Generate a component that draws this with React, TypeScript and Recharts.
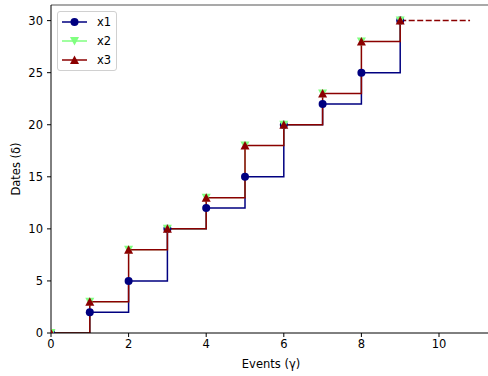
import React from "react";
import {
  LineChart,
  Line,
  XAxis,
  YAxis,
  Label,
  ReferenceLine,
} from "recharts";

const events = [0, 1, 2, 3, 4, 5, 6, 7, 8, 9];
const x1 = [0, 2, 5, 10, 12, 15, 20, 22, 25, 30];
const x2 = [0, 3, 8, 10, 13, 18, 20, 23, 28, 30];
const x3 = [0, 3, 8, 10, 13, 18, 20, 23, 28, 30];
const tailEvents = [9, 10.8];
const tailValues = [30, 30];
const xTicks = [0, 2, 4, 6, 8, 10];
const yTicks = [0, 5, 10, 15, 20, 25, 30];

const toRows = (xs: number[], ys: number[]) => xs.map((x, i) => ({ x, y: ys[i] }));

const NAVY = "#000080";
const GREEN = "#80ff80";
const RED = "#8b0000";
const FONT = "DejaVu Sans, sans-serif";
const FS = 11.5;

const Circle = ({ cx, cy, color }: any) => <circle cx={cx} cy={cy} r={4} fill={color} />;
const TriUp = ({ cx, cy, color }: any) => (
  <polygon points={`${cx},${cy - 4.5} ${cx - 4.5},${cy + 4} ${cx + 4.5},${cy + 4}`} fill={color} />
);
const TriDown = ({ cx, cy, color }: any) => (
  <polygon points={`${cx},${cy + 4.5} ${cx - 4.5},${cy - 4} ${cx + 4.5},${cy - 4}`} fill={color} />
);

const series = [
  { name: "x1", values: x1, color: NAVY, Marker: Circle, width: 1.5 },
  { name: "x2", values: x2, color: GREEN, Marker: TriDown, width: 1 },
  { name: "x3", values: x3, color: RED, Marker: TriUp, width: 1.5 },
];

const LegendBox = () => (
  <div
    style={{
      position: "absolute",
      left: 57,
      top: 11,
      width: 60,
      height: 60,
      border: "1px solid #d0d0d0",
      borderRadius: 3,
      background: "rgba(255,255,255,0.8)",
      fontFamily: FONT,
      fontSize: FS,
      boxSizing: "border-box",
      paddingTop: 1,
    }}
  >
    {series.map((s) => (
      <div key={s.name} style={{ display: "flex", alignItems: "center", height: 18.7 }}>
        <svg width={36} height={18} style={{ display: "block" }}>
          <line x1={4} x2={29} y1={9} y2={9} stroke={s.color} strokeWidth={1.5} />
          <s.Marker cx={16.5} cy={9} color={s.color} />
        </svg>
        <span style={{ color: "#000", marginLeft: 3 }}>{s.name}</span>
      </div>
    ))}
  </div>
);

export default function App() {
  return (
    <div style={{ position: "absolute", left: 0, top: 0, width: 488, height: 376, overflow: "hidden", background: "#fff" }}>
      <LineChart width={500} height={376} margin={{ top: 5, right: 9, bottom: 0, left: 0 }}>
        <XAxis
          type="number"
          dataKey="x"
          domain={[0, 11.34]}
          ticks={xTicks}
          allowDataOverflow
          height={43}
          tickSize={4}
          tickMargin={3}
          stroke="#000"
          tick={{ fill: "#000", fontSize: FS, fontFamily: FONT }}
        >
          <Label value="Events (γ)" position="center" dy={9} style={{ fill: "#000", fontSize: FS, fontFamily: FONT }} />
        </XAxis>
        <YAxis
          type="number"
          domain={[0, 31.5]}
          ticks={yTicks}
          allowDataOverflow
          width={51}
          tickSize={4}
          tickMargin={4}
          stroke="#000"
          tick={{ fill: "#000", fontSize: FS, fontFamily: FONT }}
        >
          <Label value="Dates (δ)" angle={-90} position="center" dx={-10} style={{ fill: "#000", fontSize: FS, fontFamily: FONT, textAnchor: "middle" }} />
        </YAxis>
        <ReferenceLine y={31.5} stroke="#555" strokeWidth={1.2} />
        {series.map((s) => (
          <Line
            key={s.name}
            data={toRows(events, s.values)}
            dataKey="y"
            name={s.name}
            type="stepAfter"
            stroke={s.color}
            strokeWidth={s.width}
            dot={(p: any) => <s.Marker key={p.index} cx={p.cx} cy={p.cy} color={s.color} />}
            activeDot={false}
            isAnimationActive={false}
          />
        ))}
        <Line
          data={toRows(tailEvents, tailValues)}
          dataKey="y"
          type="linear"
          stroke={RED}
          strokeWidth={1.5}
          strokeDasharray="6 2.5"
          dot={false}
          activeDot={false}
          legendType="none"
          isAnimationActive={false}
        />
      </LineChart>
      <LegendBox />
    </div>
  );
}
